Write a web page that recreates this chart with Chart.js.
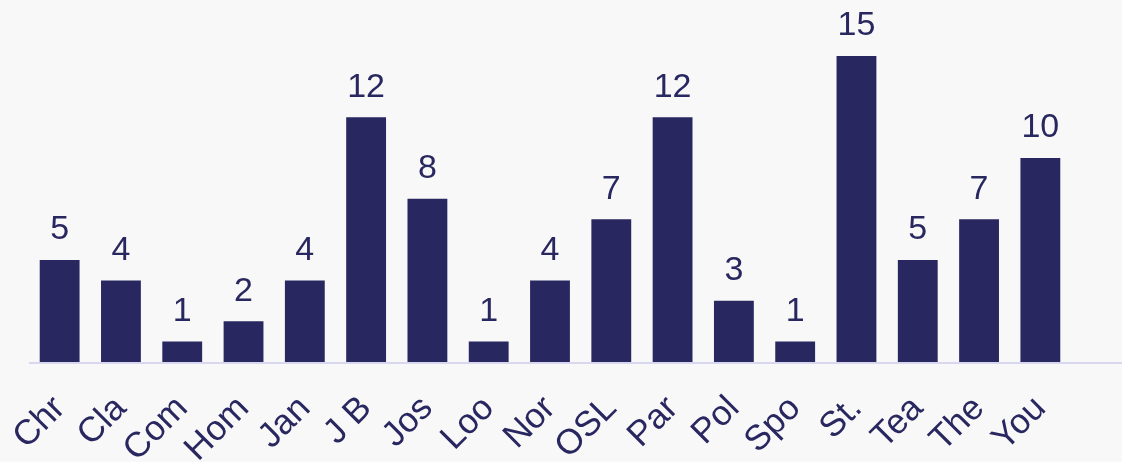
<!DOCTYPE html>
<html lang="en">
<head>
  <meta charset="UTF-8">
  <title>Counts by name</title>
  <script src="https://cdn.jsdelivr.net/npm/chart.js"></script>
  <style>
    html, body {
      margin: 0;
      padding: 0;
      background: #f8f8f8;
    }
    .chart-box {
      position: relative;
      width: 1122px;
      height: 462px;
    }
  </style>
</head>
<body>
  <div class="chart-box">
    <canvas id="barChart"></canvas>
  </div>

  <script>
    // Chart data
    const categories = ['Chr', 'Cla', 'Com', 'Hom', 'Jan', 'J B', 'Jos', 'Loo', 'Nor', 'OSL', 'Par', 'Pol', 'Spo', 'St.', 'Tea', 'The', 'You'];
    const counts = [5, 4, 1, 2, 4, 12, 8, 1, 4, 7, 12, 3, 1, 15, 5, 7, 10];

    const navy = '#29275f';

    // value labels above each bar
    const valueLabels = {
      id: 'valueLabels',
      afterDatasetsDraw(chart) {
        const ctx = chart.ctx;
        const meta = chart.getDatasetMeta(0);
        ctx.save();
        ctx.fillStyle = navy;
        ctx.font = '34px "Liberation Sans", Arial, sans-serif';
        ctx.textAlign = 'center';
        ctx.textBaseline = 'bottom';
        meta.data.forEach((bar, i) => {
          ctx.fillText(String(counts[i]), bar.x, bar.y - 13);
        });
        ctx.restore();
      }
    };

    // light baseline, from the first category's left edge to the right edge
    const baseline = {
      id: 'baseline',
      beforeDatasetsDraw(chart) {
        const ctx = chart.ctx;
        const xs = chart.scales.x;
        const y = chart.scales.y.getPixelForValue(0);
        const step = xs.getPixelForValue(1) - xs.getPixelForValue(0);
        const start = xs.getPixelForValue(0) - step / 2;
        ctx.save();
        ctx.strokeStyle = '#d9d7ef';
        ctx.lineWidth = 2;
        ctx.beginPath();
        ctx.moveTo(start, y + 1);
        ctx.lineTo(chart.width, y + 1);
        ctx.stroke();
        ctx.restore();
      }
    };

    new Chart(document.getElementById('barChart'), {
      type: 'bar',
      data: {
        labels: categories,
        datasets: [{
          data: counts,
          backgroundColor: navy,
          categoryPercentage: 1,
          barPercentage: 0.65
        }]
      },
      options: {
        responsive: true,
        maintainAspectRatio: false,
        animation: false,
        layout: {
          padding: { top: 56, left: 29, right: 51, bottom: 0 }
        },
        plugins: {
          legend: { display: false },
          tooltip: { enabled: false }
        },
        scales: {
          x: {
            grid: { display: false, drawTicks: false },
            border: { display: false },
            afterFit(scale) {
              scale.height = 100;
              scale.paddingLeft = 0;
              scale.paddingRight = 0;
            },
            ticks: {
              color: navy,
              font: { family: '"Liberation Sans", Arial, sans-serif', size: 35 },
              minRotation: 45,
              maxRotation: 45,
              padding: 26,
              autoSkip: false
            }
          },
          y: {
            display: false,
            min: 0,
            max: 15
          }
        }
      },
      plugins: [baseline, valueLabels]
    });
  </script>
</body>
</html>
